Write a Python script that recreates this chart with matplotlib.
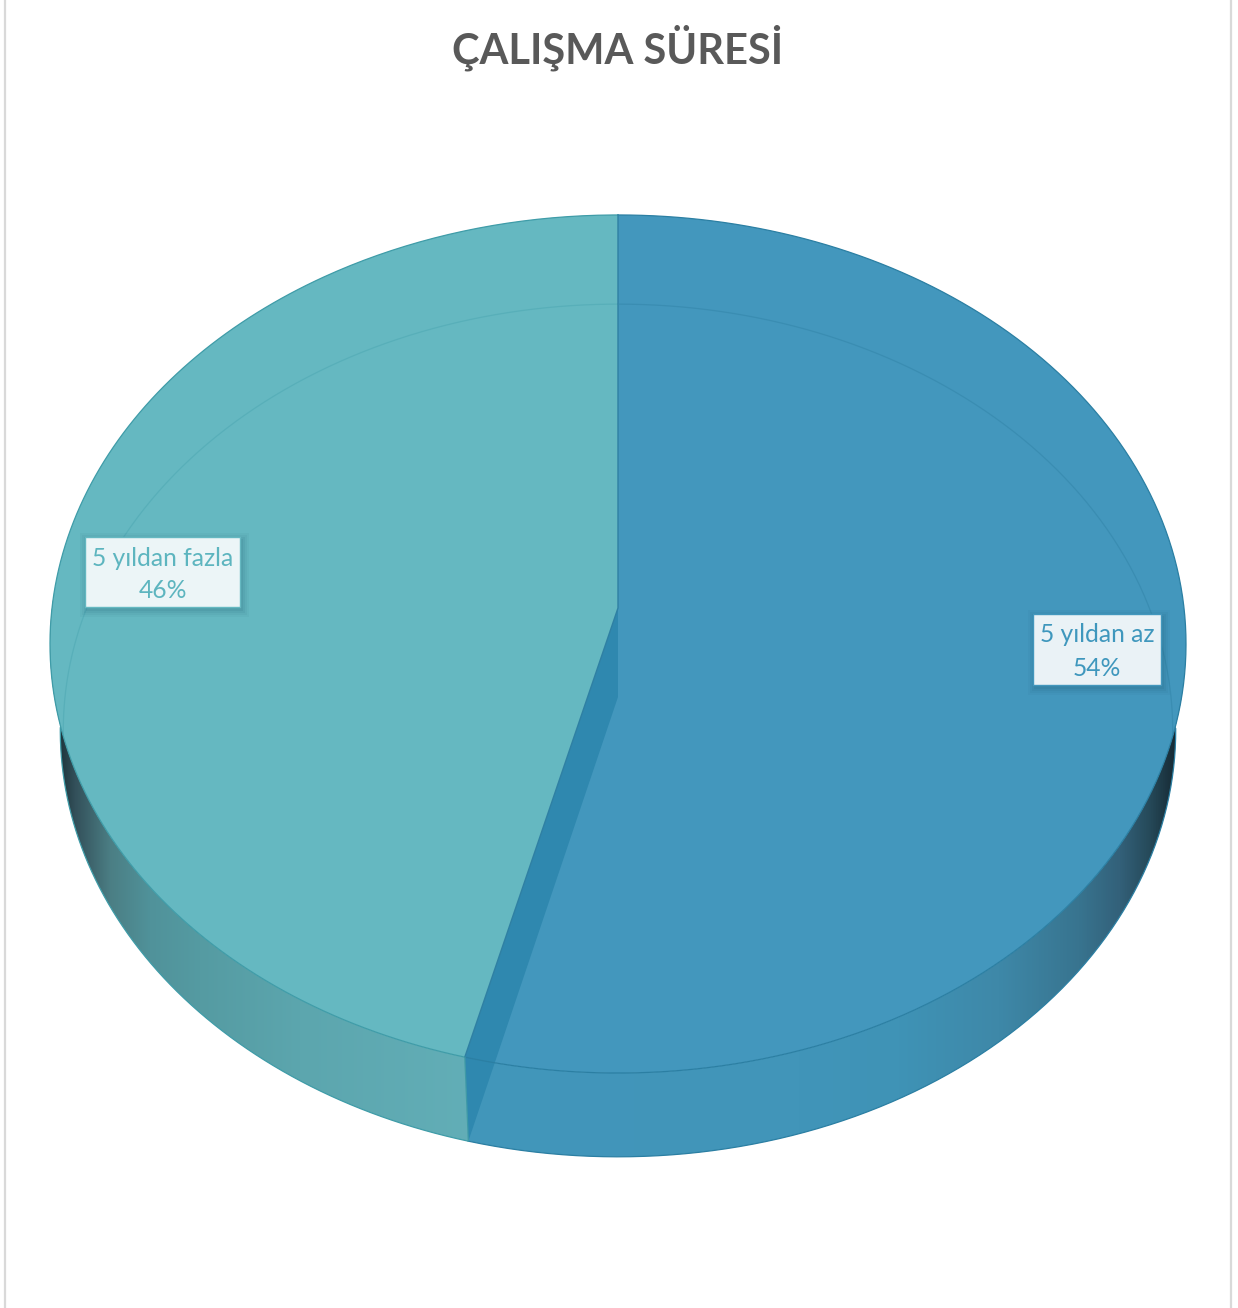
import matplotlib
matplotlib.use('Agg')
import matplotlib.pyplot as plt
import numpy as np
from matplotlib.colors import LinearSegmentedColormap
from matplotlib.patches import Polygon, Rectangle

title = 'ÇALIŞMA SÜRESİ'
categories = ['5 yıldan az', '5 yıldan fazla']
values = [54, 46]

top_colors = ['#4397BD', '#65B8C1']
text_colors = ['#3F97BD', '#5DB5BF']
box_colors = ['#EAF2F6', '#ECF5F7']
rim_colors = ['#2B7FA3', '#3F9CA8']
inner_colors = ['#3A8DB2', '#58AFB9']
cut_color = '#2F88AF'

# wall shading, (x position, colour) from left to right
wall_stops = {
    0: [(300, '#4297BC'), (800, '#4195B9'), (900, '#3F93B6'), (1000, '#3E88A8'), (1080, '#38748F'),
        (1120, '#33617A'), (1150, '#264A5A'), (1182, '#13232C')],
    1: [(50, '#10252A'), (75, '#33505A'), (110, '#4B7E84'), (150, '#50929A'), (200, '#559BA2'),
        (300, '#5CA6AE'), (490, '#63AFB8')],
}

fig = plt.figure(figsize=(12.38, 13.08), dpi=100)
ax = fig.add_axes([0, 0, 1, 1])
ax.set_xlim(0, 1238)
ax.set_ylim(1308, 0)
ax.axis('off')


def project(t, cx, y_mid, half_w, slope, c):
    # circle seen in perspective, t runs clockwise from the far side
    u = np.sin(t)
    v = np.cos(t)
    d = 1 + c * v
    return cx + half_w * u / d, (y_mid + slope * v) / d


top_disc = dict(cx=618, y_mid=608, half_w=566, slope=-375, c=0.0839)
floor_disc = dict(cx=618, y_mid=697, half_w=556, slope=-369, c=0.0785)
inner_disc = dict(floor_disc, half_w=553)

fractions = np.array(values) / sum(values)
edges = np.concatenate([[0], np.cumsum(fractions)]) * 2 * np.pi

# outer frame lines
ax.plot([5, 5], [0, 1308], color='#D9D9D9', lw=1.6, zorder=1)
ax.plot([1231, 1231], [0, 1308], color='#D9D9D9', lw=1.6, zorder=1)

for i in range(len(values)):
    t = np.linspace(edges[i], edges[i + 1], 300)
    tx, ty = project(t, **top_disc)
    fx, fy = project(t, **floor_disc)

    # side wall, gradient clipped to the band between both rims
    xs = [s[0] for s in wall_stops[i]]
    cols = [s[1] for s in wall_stops[i]]
    pos = (np.array(xs) - xs[0]) / (xs[-1] - xs[0])
    cmap = LinearSegmentedColormap.from_list('wall%d' % i, list(zip(pos, cols)), N=512)
    im = ax.imshow(np.linspace(0, 1, 1024)[None, :], cmap=cmap, aspect='auto',
                   extent=[xs[0], xs[-1], 1200, 600], zorder=2)
    wall = Polygon(np.column_stack([np.r_[tx, fx[::-1]], np.r_[ty, fy[::-1]]]),
                   closed=True, transform=ax.transData, fc='none', ec='none')
    ax.add_patch(wall)
    im.set_clip_path(wall)

    # top face
    cy0 = top_disc['y_mid']
    face = np.column_stack([np.r_[top_disc['cx'], tx], np.r_[cy0, ty]])
    ax.add_patch(Polygon(face, closed=True, fc=top_colors[i], ec='none', zorder=3))

    # rims
    front = fy > 725
    ax.plot(fx[front], fy[front], color=rim_colors[i], lw=0.9, zorder=6)
    ax.plot(tx, ty, color=rim_colors[i], lw=0.9, zorder=6)

ax.set_xlim(0, 1238)
ax.set_ylim(1308, 0)

# cut face between the slices, seen through the blue top
sx, sy = project(np.array([edges[1]]), **top_disc)
gx, gy = project(np.array([edges[1]]), **floor_disc)
cut = [(top_disc['cx'], top_disc['y_mid']), (floor_disc['cx'], floor_disc['y_mid']),
       (gx[0], gy[0]), (sx[0], sy[0])]
ax.add_patch(Polygon(cut, closed=True, fc=cut_color, ec='none', zorder=4))

# far part of the floor rim showing through the top face
for i, (a, b) in enumerate([(0, np.radians(95)), (np.radians(265), 2 * np.pi)]):
    ix, iy = project(np.linspace(a, b, 200), **inner_disc)
    ax.plot(ix, iy, color=inner_colors[i], lw=0.9, zorder=5)

# slice dividers
ax.plot([top_disc['cx'], top_disc['cx'], sx[0]], [215, top_disc['y_mid'], sy[0]],
        color='#2F80A3', lw=1.0, zorder=6)
ax.plot([sx[0], gx[0]], [sy[0], gy[0]], color='#3F9AA6', lw=0.9, zorder=6)

# data labels
label_boxes = [(1033, 614, 128, 71), (85, 537, 155, 70)]
for i, (x, y, w, h) in enumerate(label_boxes):
    for grow, alpha in [(7, 0.05), (5, 0.06), (3, 0.08), (1, 0.10)]:
        ax.add_patch(Rectangle((x - grow + 2, y - grow + 3), w + 2 * grow, h + 2 * grow,
                               fc='#1D5A72', ec='none', alpha=alpha, zorder=7))
    ax.add_patch(Rectangle((x, y), w, h, fc=box_colors[i], ec=top_colors[i], lw=1.0, zorder=8))
    ax.text(x + w / 2, y + 21, categories[i], color=text_colors[i], family='Lato',
            fontsize=17.7, ha='center', va='center', zorder=9)
    ax.text(x + w / 2, y + 54, '%d%%' % values[i], color=text_colors[i], family='Lato',
            fontsize=17.7, ha='center', va='center', zorder=9)

ax.text(618, 48, title, color='#595959', family='Lato', weight='bold',
        fontsize=30, ha='center', va='center')

fig.savefig('out.png', dpi=100, facecolor='white')
